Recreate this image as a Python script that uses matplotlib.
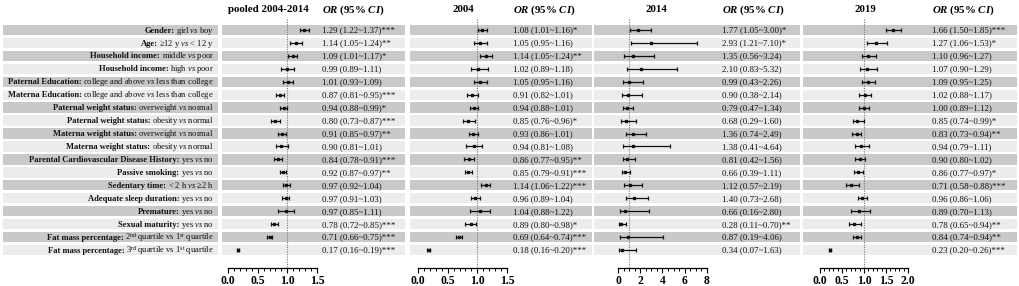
import matplotlib
matplotlib.use("Agg")
import matplotlib.pyplot as plt

W, H, DPI = 1020, 286, 100

plt.rcParams["font.family"] = ["Liberation Serif", "DejaVu Serif"]
plt.rcParams["mathtext.fontset"] = "custom"
plt.rcParams["mathtext.rm"] = "Liberation Serif"
plt.rcParams["mathtext.it"] = "Liberation Serif:italic"
plt.rcParams["mathtext.bf"] = "Liberation Serif:bold"
plt.rcParams["mathtext.bfit"] = "Liberation Serif:italic:bold"

# -----------------------------
# Data
# -----------------------------
factor_names = [
    "Gender", "Age", "Household income", "Household income",
    "Paternal Education", "Materna Education",
    "Paternal weight status", "Paternal weight status",
    "Materna weight status", "Materna weight status",
    "Parental Cardiovascular Disease History", "Passive smoking",
    "Sedentary time", "Adequate sleep duration", "Premature",
    "Sexual maturity", "Fat mass percentage", "Fat mass percentage",
]
factor_levels = [
    r"girl $\mathit{vs}$ boy",
    r"≥12 y $\mathit{vs}$ < 12 y",
    r"middle $\mathit{vs}$ poor",
    r"high $\mathit{vs}$ poor",
    r"college and above $\mathit{vs}$ less than college",
    r"college and above $\mathit{vs}$ less than college",
    r"overweight $\mathit{vs}$ normal",
    r"obesity $\mathit{vs}$ normal",
    r"overweight $\mathit{vs}$ normal",
    r"obesity $\mathit{vs}$ normal",
    r"yes $\mathit{vs}$ no",
    r"yes $\mathit{vs}$ no",
    r"< 2 h $\mathit{vs}$ ≥2 h",
    r"yes $\mathit{vs}$ no",
    r"yes $\mathit{vs}$ no",
    r"yes $\mathit{vs}$ no",
    r"2$^{\rm nd}$ quartile vs 1$^{\rm st}$ quartile",
    r"3$^{\rm rd}$ quartile vs 1$^{\rm st}$ quartile",
]

pooled_or = [1.29, 1.14, 1.09, 0.99, 1.01, 0.87, 0.94, 0.80, 0.91, 0.90, 0.84, 0.92, 0.97, 0.97, 0.97, 0.78, 0.71, 0.17]
pooled_lo = [1.22, 1.05, 1.01, 0.89, 0.93, 0.81, 0.88, 0.73, 0.85, 0.81, 0.78, 0.87, 0.92, 0.91, 0.85, 0.72, 0.66, 0.16]
pooled_hi = [1.37, 1.24, 1.17, 1.11, 1.09, 0.95, 0.99, 0.87, 0.97, 1.01, 0.91, 0.97, 1.04, 1.03, 1.11, 0.85, 0.75, 0.19]
pooled_sig = ["***", "**", "*", "", "", "***", "*", "***", "**", "", "***", "**", "", "", "", "***", "***", "***"]

y2004_or = [1.08, 1.05, 1.14, 1.02, 1.05, 0.91, 0.94, 0.85, 0.93, 0.94, 0.86, 0.85, 1.14, 0.96, 1.04, 0.89, 0.69, 0.18]
y2004_lo = [1.01, 0.95, 1.05, 0.89, 0.95, 0.82, 0.88, 0.76, 0.86, 0.81, 0.77, 0.79, 1.06, 0.89, 0.88, 0.80, 0.64, 0.16]
y2004_hi = [1.16, 1.16, 1.24, 1.18, 1.16, 1.01, 1.01, 0.96, 1.01, 1.08, 0.95, 0.91, 1.22, 1.04, 1.22, 0.98, 0.74, 0.20]
y2004_sig = ["*", "", "**", "", "", "", "", "*", "", "", "**", "***", "***", "", "", "*", "***", "***"]

y2014_or = [1.77, 2.93, 1.35, 2.10, 0.99, 0.90, 0.79, 0.68, 1.36, 1.38, 0.81, 0.66, 1.12, 1.40, 0.66, 0.28, 0.87, 0.34]
y2014_lo = [1.05, 1.21, 0.56, 0.83, 0.43, 0.38, 0.47, 0.29, 0.74, 0.41, 0.42, 0.39, 0.57, 0.73, 0.16, 0.11, 0.19, 0.07]
y2014_hi = [3.00, 7.10, 3.24, 5.32, 2.26, 2.14, 1.34, 1.60, 2.49, 4.64, 1.56, 1.11, 2.19, 2.68, 2.80, 0.70, 4.06, 1.63]
y2014_sig = ["*", "*", "", "", "", "", "", "", "", "", "", "", "", "", "", "**", "", ""]

y2019_or = [1.66, 1.27, 1.10, 1.07, 1.09, 1.02, 1.00, 0.85, 0.83, 0.94, 0.90, 0.86, 0.71, 0.96, 0.89, 0.78, 0.84, 0.23]
y2019_lo = [1.50, 1.06, 0.96, 0.90, 0.95, 0.88, 0.89, 0.74, 0.73, 0.79, 0.80, 0.77, 0.58, 0.86, 0.70, 0.65, 0.74, 0.20]
y2019_hi = [1.85, 1.53, 1.27, 1.29, 1.25, 1.17, 1.12, 0.99, 0.94, 1.11, 1.02, 0.97, 0.88, 1.06, 1.13, 0.94, 0.94, 0.26]
y2019_sig = ["***", "*", "", "", "", "", "", "*", "**", "", "", "*", "***", "", "", "**", "**", "***"]

ticks_15 = [0.0, 0.5, 1.0, 1.5]
ticks_15_labels = ["0.0", "0.5", "1.0", "1.5"]
ticks_8 = [0, 2, 4, 6, 8]
ticks_8_labels = ["0", "2", "4", "6", "8"]
ticks_20 = [0.0, 0.5, 1.0, 1.5, 2.0]
ticks_20_labels = ["0.0", "0.5", "1.0", "1.5", "2.0"]

# -----------------------------
# Layout (pixels)
# -----------------------------
ROW0_PX = 30
ROW_STEP_PX = 12.94
AXIS_PX = 268
TITLE_PX = 10
BAND_H = 0.80
DARK = "#c9c9c9"
LIGHT = "#ececec"

LABEL_SIZE = 6.15
VALUE_SIZE = 6.4
TITLE_SIZE = 7.8
TICK_SIZE = 8.4
BASELINE_SHIFT = 0.2  # rows below band centre


def px_to_row(y):
    return (y - ROW0_PX) / ROW_STEP_PX


n_rows = len(factor_names)
YLIM = (px_to_row(H), px_to_row(0))


def draw_bands(ax):
    for i in range(n_rows):
        ax.axhspan(i - BAND_H / 2, i + BAND_H / 2,
                   color=DARK if i % 2 == 0 else LIGHT, lw=0, zorder=0)


fig = plt.figure(figsize=(W / DPI, H / DPI), dpi=DPI)
renderer = fig.canvas.get_renderer()

# label column: regular part right-aligned, bold factor name placed to its left
lab_x0, lab_x1 = 3, 218
ax_lab = fig.add_axes([lab_x0 / W, 0, (lab_x1 - lab_x0) / W, 1])
ax_lab.set_xlim(lab_x0, lab_x1)
ax_lab.set_ylim(*YLIM)
ax_lab.axis("off")
draw_bands(ax_lab)
for i, (name, level) in enumerate(zip(factor_names, factor_levels)):
    y = i + BASELINE_SHIFT
    t = ax_lab.text(lab_x1 - 4, y, level, ha="right", va="baseline",
                    fontsize=LABEL_SIZE, color="#111111")
    left_px = t.get_window_extent(renderer).x0 / fig.dpi * DPI
    ax_lab.text(left_px - 1.7, y, name + ":", ha="right", va="baseline",
                fontsize=LABEL_SIZE, fontweight="bold", color="#111111")

groups = [
    # title, or, lo, hi, sig, band px, zero px, px per unit, text px, title px, ticks
    ("pooled 2004-2014", pooled_or, pooled_lo, pooled_hi, pooled_sig,
     (222, 405), 228, 59.3, 322, 268, ticks_15, ticks_15_labels, 0.1),
    ("2004", y2004_or, y2004_lo, y2004_hi, y2004_sig,
     (410, 592), 418, 59.3, 513, 463, ticks_15, ticks_15_labels, 0.1),
    ("2014", y2014_or, y2014_lo, y2014_hi, y2014_sig,
     (594, 800), 618, 11.1, 722, 656, ticks_8, ticks_8_labels, 0.5),
    ("2019", y2019_or, y2019_lo, y2019_hi, y2019_sig,
     (803, 1017), 820, 44.0, 932, 865, ticks_20, ticks_20_labels, 0.1),
]

for (title, ors, los, his, sigs, (x0, x1), zero_px, ppu, text_px, title_px,
     ticks, tick_labels, minor_step) in groups:
    ax = fig.add_axes([x0 / W, 0, (x1 - x0) / W, 1])
    ax.set_xlim((x0 - zero_px) / ppu, (x1 - zero_px) / ppu)
    ax.set_ylim(*YLIM)
    ax.patch.set_alpha(0)
    draw_bands(ax)

    rows = list(range(n_rows))
    err = [[o - l for o, l in zip(ors, los)], [h - o for o, h in zip(ors, his)]]
    ax.errorbar(ors, rows, xerr=err, fmt="s", ms=2.0, color="#111111",
                ecolor="#111111", elinewidth=0.9, capsize=1.6, capthick=0.9,
                zorder=4)

    axis_row = px_to_row(AXIS_PX)
    ax.plot([1, 1], [px_to_row(19), axis_row], color="#777777", lw=0.8,
            ls=(0, (1, 1.2)), zorder=3)

    text_x = (text_px - zero_px) / ppu
    for i, (o, l, h, s) in enumerate(zip(ors, los, his, sigs)):
        ax.text(text_x, i + BASELINE_SHIFT, f"{o:.2f} ({l:.2f}~{h:.2f}){s}",
                ha="left", va="baseline", fontsize=VALUE_SIZE, color="#111111")

    for side in ["top", "left", "right"]:
        ax.spines[side].set_visible(False)
    ax.spines["bottom"].set_position(("data", axis_row))
    ax.spines["bottom"].set_bounds(ticks[0], ticks[-1])
    ax.spines["bottom"].set_linewidth(0.9)
    ax.set_yticks([])
    ax.set_xticks(ticks, labels=tick_labels, fontweight="bold", fontsize=TICK_SIZE)
    n_minor = int(round((ticks[-1] - ticks[0]) / minor_step))
    ax.set_xticks([ticks[0] + k * minor_step for k in range(n_minor + 1)], minor=True)
    ax.tick_params(axis="x", which="major", length=3.5, width=0.8, pad=1.2)
    ax.tick_params(axis="x", which="minor", length=2.2, width=0.7)

    fig.text(title_px / W, 1 - TITLE_PX / H, title, ha="center", va="center",
             fontsize=TITLE_SIZE, fontweight="bold")
    fig.text(text_px / W, 1 - TITLE_PX / H, r"$\mathbfit{OR}$ (95% $\mathbfit{CI}$)",
             ha="left", va="center", fontsize=TITLE_SIZE, fontweight="bold")

fig.savefig("out.png", dpi=DPI)
plt.close(fig)
